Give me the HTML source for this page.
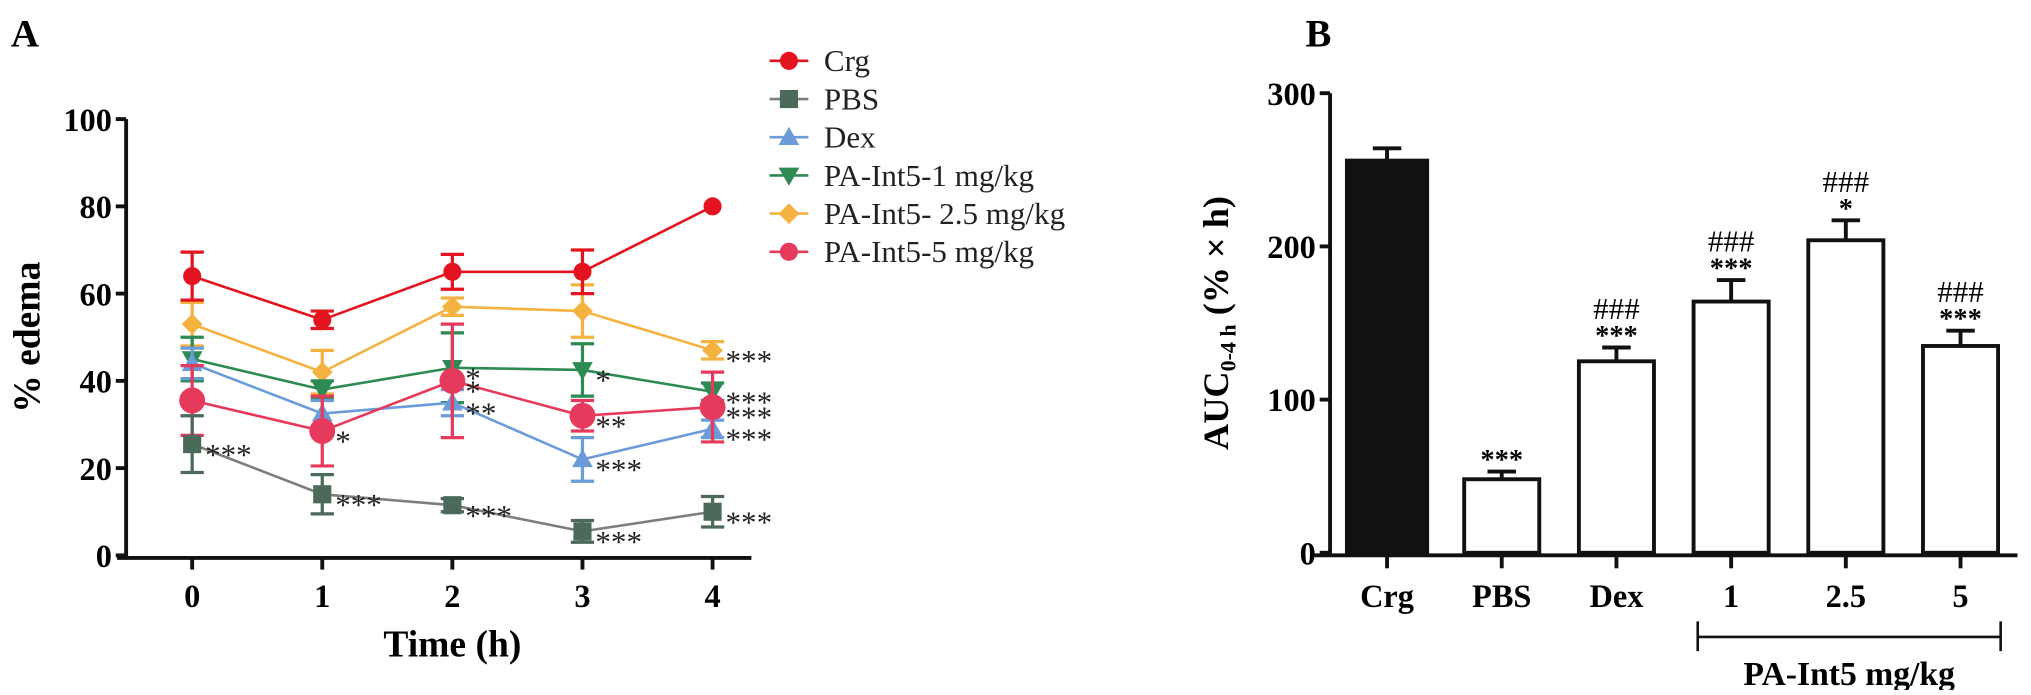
<!DOCTYPE html>
<html><head><meta charset="utf-8"><style>
body{margin:0;background:#fff}
svg text{font-family:"Liberation Serif",serif}
</style></head><body>
<svg id="fig" width="2031" height="690" viewBox="0 0 1568 533">
<text x="8" y="36" font-size="30" font-weight="bold">A</text>
<text x="1008" y="36" font-size="30" font-weight="bold">B</text>
<g id="A"></g>
<g id="B"></g>
</svg>
<script>
const times=[0,1,2,3,4];
const seriesNames=["Crg","PBS","Dex","PA-Int5-1 mg/kg","PA-Int5- 2.5 mg/kg","PA-Int5-5 mg/kg"];
const crgVals=[64,54,65,65,80];
const crgErr=[5.5,2,4,5,0];
const pbsVals=[25.5,14,11.5,5.5,10];
const pbsErr=[6.5,4.5,1.5,2.5,3.5];
const dexVals=[44,32.5,35,22,29];
const dexErr=[3.5,3,3,5,2];
const int1Vals=[45,38,43,42.5,37.5];
const int1Err=[5,2,8,6,2];
const int25Vals=[53,42,57,56,47];
const int25Err=[5,5,2,6,2];
const int5Vals=[35.5,28.5,40,32,34];
const int5Err=[8,8,13,3.5,8];
const pbsStars=["***","***","***","***","***"];
const dexStars=["","","**","***","***"];
const int1Stars=["","","*","*","***"];
const int25Stars=["","","","","***"];
const int5Stars=["","*","*","**","***"];
const yTicksA=[0,20,40,60,80,100];
const barCats=["Crg","PBS","Dex","1","2.5","5"];
const barVals=[256,48,125,164,204,135];
const barErr=[8,5,9,14,13,10];
const barStars=["","***","***","***","*","***"];
const barHash=["","","###","###","###","###"];
const yTicksB=[0,100,200,300];

const NS="http://www.w3.org/2000/svg";
function mk(parent,tag,attrs,txt){const e=document.createElementNS(NS,tag);for(const k in attrs)e.setAttribute(k,attrs[k]);if(txt!==undefined)e.textContent=txt;parent.appendChild(e);return e;}
const A=document.getElementById('A');
const xA=t=>148+t*100.5;
const yA=v=>429-v*3.37;
let ax=mk(A,'path',{d:`M97 ${yA(100)} V431 M90 431 H580`,stroke:'#111','stroke-width':3,fill:'none'});


yTicksA.forEach(v=>{
 let t=mk(A,'line',{x1:89,x2:97,y1:yA(v),y2:yA(v),stroke:'#111','stroke-width':3});
 
 
 let l=mk(A,'text',{x:86,y:yA(v)+9,'font-size':25,'font-weight':'bold','text-anchor':'end'},v);
 
 
});
times.forEach(t=>{
 let k=mk(A,'line',{x1:xA(t),x2:xA(t),y1:431,y2:440,stroke:'#111','stroke-width':3});
 
 
 let l=mk(A,'text',{x:xA(t),y:469,'font-size':25,'font-weight':'bold','text-anchor':'middle'},t);
 
 
});
let xt=mk(A,'text',{x:349,y:507,'font-size':29,'font-weight':'bold','text-anchor':'middle'},'Time (h)');


let yt=mk(A,'text',{x:0,y:0,'font-size':29,'font-weight':'bold','text-anchor':'middle',transform:`translate(30 ${yA(50)}) rotate(-90)`},'% edema');



function marker(g,type,x,y,c){
 if(type==='circle')return mk(g,'circle',{cx:x,cy:y,r:7,fill:c});
 if(type==='bigcircle')return mk(g,'circle',{cx:x,cy:y,r:10,fill:c});
 if(type==='square')return mk(g,'rect',{x:x-7,y:y-7,width:14,height:14,fill:c});
 if(type==='up')return mk(g,'path',{d:`M${x} ${y-8}L${x+8} ${y+6}L${x-8} ${y+6}Z`,fill:c});
 if(type==='down')return mk(g,'path',{d:`M${x} ${y+8}L${x+8} ${y-6}L${x-8} ${y-6}Z`,fill:c});
 if(type==='diamond')return mk(g,'path',{d:`M${x} ${y-8}L${x+8} ${y}L${x} ${y+8}L${x-8} ${y}Z`,fill:c});
}
const defs=[
 {name:seriesNames[0],v:crgVals,e:crgErr,s:null,c:'#e3141f',lc:'#e3141f',m:'circle'},
 {name:seriesNames[1],v:pbsVals,e:pbsErr,s:pbsStars,c:'#4b6a5a',lc:'#7d7d7d',m:'square'},
 {name:seriesNames[2],v:dexVals,e:dexErr,s:dexStars,c:'#6b9bd8',lc:'#6b9bd8',m:'up'},
 {name:seriesNames[3],v:int1Vals,e:int1Err,s:int1Stars,c:'#2d8a52',lc:'#2d8a52',m:'down'},
 {name:seriesNames[4],v:int25Vals,e:int25Err,s:int25Stars,c:'#f4b240',lc:'#f4b240',m:'diamond'},
 {name:seriesNames[5],v:int5Vals,e:int5Err,s:int5Stars,c:'#e63a5c',lc:'#e63a5c',m:'bigcircle'}
];
const drawOrder=[4,3,2,5,1,0];
drawOrder.forEach(i=>{
 const d=defs[i];
 const g=mk(A,'g',{});
 
 
 const l=mk(g,'polyline',{points:d.v.map((v,j)=>xA(times[j])+','+yA(v)).join(' '),fill:'none',stroke:d.lc,'stroke-width':2});
 
 
 d.v.forEach((v,j)=>{
  const x=xA(times[j]);
  if(d.e[j]>0){
   const eb=mk(g,'path',{d:`M${x} ${yA(v+d.e[j])}V${yA(v-d.e[j])}M${x-9} ${yA(v+d.e[j])}H${x+9}M${x-9} ${yA(v-d.e[j])}H${x+9}`,stroke:d.c,'stroke-width':2.5,fill:'none'});
   
   
  }
  const m=marker(g,d.m,x,yA(v),d.c);
  
  
  if(d.s&&d.s[j]){
   const st=mk(g,'text',{x:x+10,y:yA(v)+16,'font-size':24,fill:'#222'},d.s[j]);
   
   
  }
 });
});
defs.forEach((d,i)=>{
 const g=mk(A,'g',{});
 
 
 const y=47+i*29.5;
 mk(g,'line',{x1:594,x2:624,y1:y,y2:y,stroke:d.lc,'stroke-width':2});
 marker(g,d.m==='bigcircle'?'circle':d.m,609,y,d.c);
 mk(g,'text',{x:636,y:y+8,'font-size':24,fill:'#222'},d.name);
});

const B=document.getElementById('B');
const yB=v=>427-v*(355/300);
const xB=i=>1071+i*88.6;
let axb=mk(B,'path',{d:`M1027 ${yB(300)} V429 M1015 429 H1558`,stroke:'#111','stroke-width':3,fill:'none'});


yTicksB.forEach(v=>{
 const t=mk(B,'line',{x1:1019,x2:1027,y1:yB(v),y2:yB(v),stroke:'#111','stroke-width':3});
 
 
 const l=mk(B,'text',{x:1016,y:yB(v)+9,'font-size':25,'font-weight':'bold','text-anchor':'end'},v);
 
 
});
const ytb=mk(B,'text',{x:0,y:0,'font-size':28,'font-weight':'bold','text-anchor':'middle',transform:`translate(948 ${yB(150)}) rotate(-90)`});


ytb.innerHTML='AUC<tspan font-size="17" dy="6">0-4 h</tspan><tspan dy="-6"> (% × h)</tspan>';
barCats.forEach((c,i)=>{
 const x=xB(i),w=i===0?62:58,v=barVals[i];
 const top=yB(v+barErr[i]);
 const eb=mk(B,'path',{d:`M${x} ${yB(v)}V${top}M${x-11} ${top}H${x+11}`,stroke:'#111','stroke-width':3,fill:'none'});
 
 
 const r=mk(B,'rect',{x:x-w/2,y:yB(v),width:w,height:427-yB(v),fill:i===0?'#111':'#fff',stroke:'#111','stroke-width':3});
 
 
 const k=mk(B,'line',{x1:x,x2:x,y1:429,y2:439,stroke:'#111','stroke-width':3});
 
 
 const l=mk(B,'text',{x:x,y:469,'font-size':25,'font-weight':'bold','text-anchor':'middle'},c);
 
 
 if(barStars[i]){
  const s=mk(B,'text',{x:x,y:top-2,'font-size':22,'font-weight':'bold','text-anchor':'middle'},barStars[i]);
  
  
 }
 if(barHash[i]){
  const h=mk(B,'text',{x:x,y:top-22,'font-size':24,'text-anchor':'middle'},barHash[i]);
  
  
 }
});
const br=mk(B,'path',{d:`M1311 480V503M1311 492H1545M1545 480V503`,stroke:'#111','stroke-width':2,fill:'none'});


const bl=mk(B,'text',{x:1428,y:529,'font-size':26,'font-weight':'bold','text-anchor':'middle'},'PA-Int5 mg/kg');


</script>
</body></html>
